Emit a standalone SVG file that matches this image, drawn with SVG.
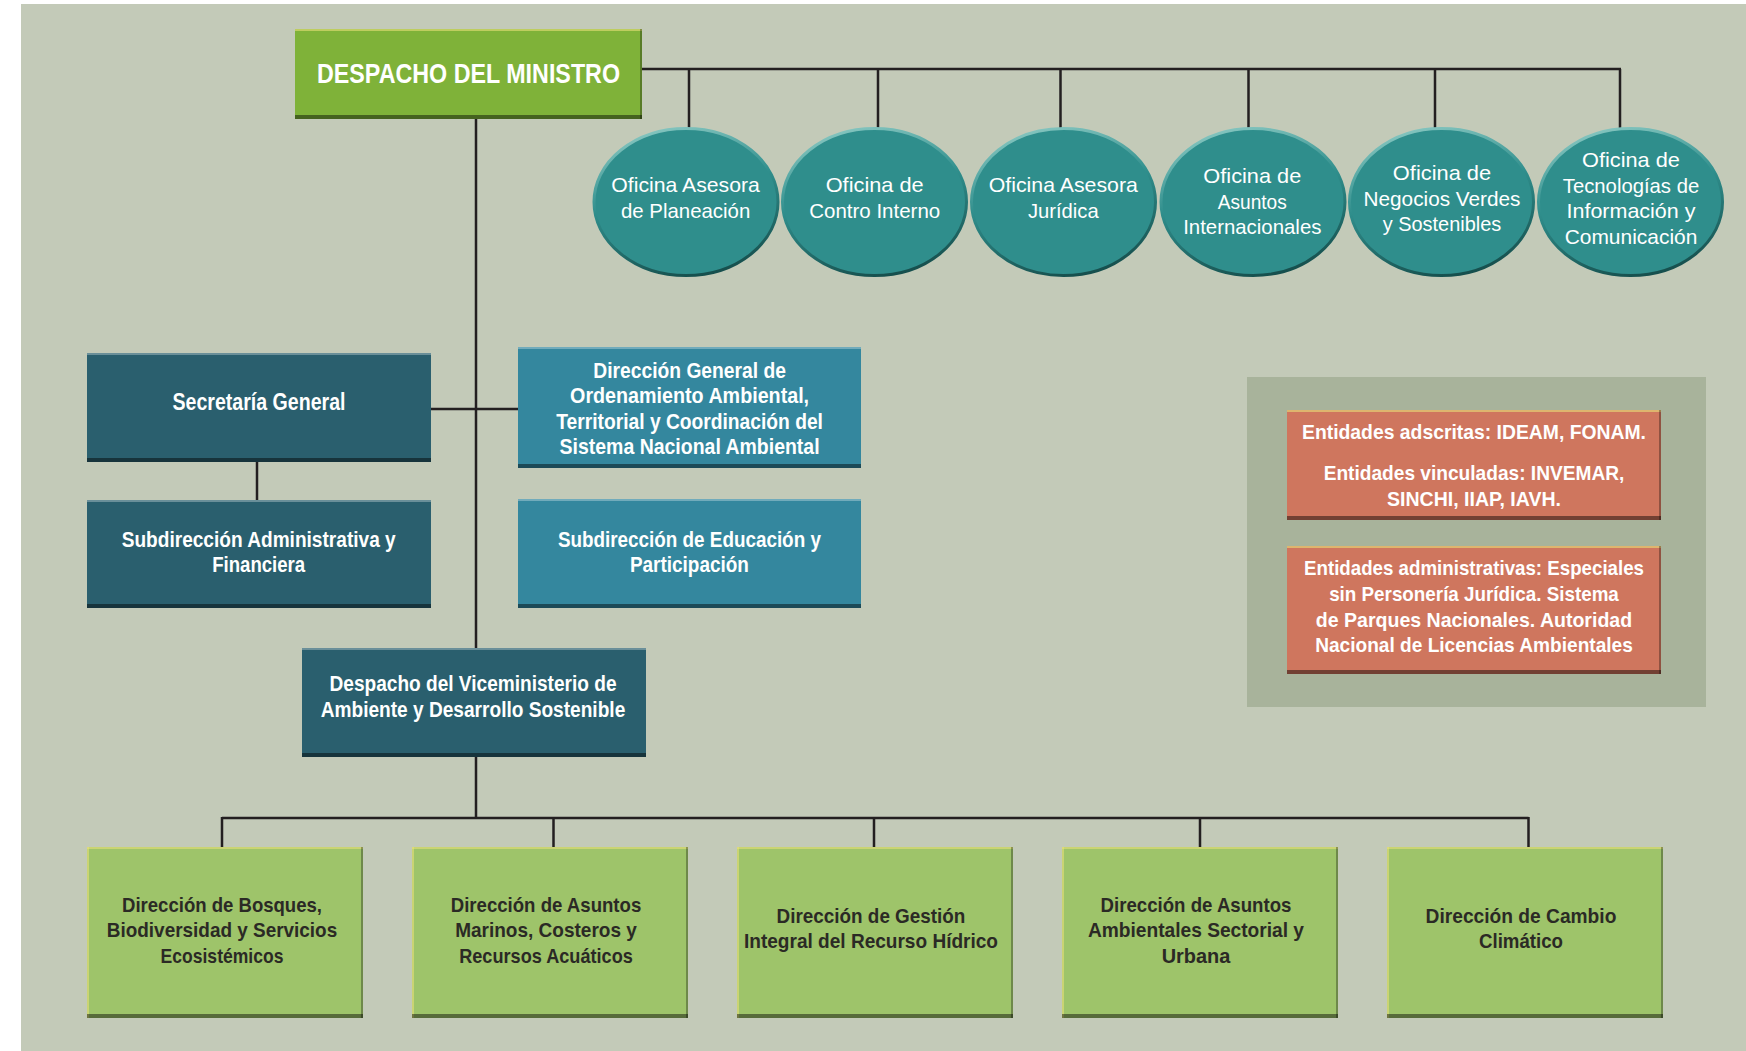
<svg xmlns="http://www.w3.org/2000/svg" width="1746" height="1051" viewBox="0 0 1746 1051">
<defs>
<linearGradient id="rim" x1="0.3" y1="0" x2="0.6" y2="1">
<stop offset="0" stop-color="#86c6c0"/>
<stop offset="0.45" stop-color="#2f8e8c"/>
<stop offset="1" stop-color="#164f4d"/>
</linearGradient>
<style>
.ln{stroke:#231f20;stroke-width:2.5;fill:none}
.hi{fill:#ffffff;opacity:.3}
.hy{fill:#e8e07a;opacity:.6}
.sh{fill:#000000;opacity:.45}
.sr{fill:#000000;opacity:.3}
.g1{fill:#7fb239}
.g2{fill:#9ec46a}
.dk{fill:#2a5f6e}
.bl{fill:#34879e}
.sa{fill:#cf765e}
.ci{fill:#2f8e8c;stroke:url(#rim);stroke-width:3}
.tb{font-family:"Liberation Sans",Arial,sans-serif;font-weight:bold;fill:#ffffff;text-anchor:middle;font-size:22px}
.td{font-family:"Liberation Sans",Arial,sans-serif;font-weight:bold;fill:#2b2a25;text-anchor:middle;font-size:21px}
.tc{font-family:"Liberation Sans",Arial,sans-serif;fill:#ffffff;text-anchor:middle;font-size:21px}
.ts{font-family:"Liberation Sans",Arial,sans-serif;font-weight:bold;fill:#ffffff;text-anchor:middle;font-size:21px}
</style>
</defs>
<rect x="0" y="0" width="1746" height="1051" fill="#ffffff"/>
<rect x="21" y="4" width="1725" height="1047" fill="#c3cab8"/>
<rect x="1247" y="377" width="459" height="330" fill="#a8b39b"/>

<g id="connectors">
<path class="ln" d="M642,69 H1621 M689,69 V128 M878,69 V128 M1060.5,69 V128 M1248.5,69 V128 M1435,69 V128 M1620,69 V128"/>
<path class="ln" d="M476,119 V648"/>
<path class="ln" d="M431,409 H518"/>
<path class="ln" d="M257,462 V500"/>
<path class="ln" d="M476,757 V818 M222,818 H1528.5 M222,817 V847 M553.5,818 V847 M874,818 V847 M1200,818 V847 M1528.5,817 V847"/>
</g>

<g id="despacho">
<rect class="g1" x="295" y="29" width="347" height="90"/>
<rect class="hy" x="295" y="29" width="347" height="2"/>
<rect class="sh" x="295" y="115" width="347" height="4"/>
<rect class="sr" x="640" y="29" width="2" height="90"/>
<text class="tb" x="468.5" y="82.5" style="font-size:28px" textLength="303" lengthAdjust="spacingAndGlyphs">DESPACHO DEL MINISTRO</text>
</g>

<g id="of1">
<ellipse class="ci" cx="686" cy="202" rx="92" ry="73.5"/>
<text class="tc" x="685.6" y="192" textLength="148.5" lengthAdjust="spacingAndGlyphs">Oficina Asesora</text>
<text class="tc" x="685.6" y="218" textLength="129.4" lengthAdjust="spacingAndGlyphs">de Planeación</text>
</g>
<g id="of2">
<ellipse class="ci" cx="874.5" cy="202" rx="92" ry="73.5"/>
<text class="tc" x="874.7" y="192" textLength="98" lengthAdjust="spacingAndGlyphs">Oficina de</text>
<text class="tc" x="874.7" y="218" textLength="131" lengthAdjust="spacingAndGlyphs">Contro Interno</text>
</g>
<g id="of3">
<ellipse class="ci" cx="1063.5" cy="202" rx="92" ry="73.5"/>
<text class="tc" x="1063.3" y="192" textLength="149.3" lengthAdjust="spacingAndGlyphs">Oficina Asesora</text>
<text class="tc" x="1063.3" y="218" textLength="70.8" lengthAdjust="spacingAndGlyphs">Jurídica</text>
</g>
<g id="of4">
<ellipse class="ci" cx="1253" cy="202" rx="92" ry="73.5"/>
<text class="tc" x="1252.3" y="183" textLength="97.9" lengthAdjust="spacingAndGlyphs">Oficina de</text>
<text class="tc" x="1252.3" y="208.5" textLength="69" lengthAdjust="spacingAndGlyphs">Asuntos</text>
<text class="tc" x="1252.3" y="234" textLength="138.3" lengthAdjust="spacingAndGlyphs">Internacionales</text>
</g>
<g id="of5">
<ellipse class="ci" cx="1441.5" cy="202" rx="92" ry="73.5"/>
<text class="tc" x="1442" y="180" textLength="98.3" lengthAdjust="spacingAndGlyphs">Oficina de</text>
<text class="tc" x="1442" y="205.5" textLength="157" lengthAdjust="spacingAndGlyphs">Negocios Verdes</text>
<text class="tc" x="1442" y="231" textLength="118.5" lengthAdjust="spacingAndGlyphs">y Sostenibles</text>
</g>
<g id="of6">
<ellipse class="ci" cx="1630.5" cy="202" rx="92" ry="73.5"/>
<text class="tc" x="1631" y="167" textLength="97.9" lengthAdjust="spacingAndGlyphs">Oficina de</text>
<text class="tc" x="1631" y="192.5" textLength="136.4" lengthAdjust="spacingAndGlyphs">Tecnologías de</text>
<text class="tc" x="1631" y="218" textLength="129" lengthAdjust="spacingAndGlyphs">Información y</text>
<text class="tc" x="1631" y="243.5" textLength="132.7" lengthAdjust="spacingAndGlyphs">Comunicación</text>
</g>

<g id="secretaria">
<rect class="dk" x="87" y="353" width="344" height="109"/>
<rect class="hi" x="87" y="353" width="344" height="2"/>
<rect class="sh" x="87" y="458" width="344" height="4"/>
<text class="tb" x="259" y="410" style="font-size:23px" textLength="173" lengthAdjust="spacingAndGlyphs">Secretaría General</text>
</g>

<g id="subadmin">
<rect class="dk" x="87" y="500" width="344" height="108"/>
<rect class="hi" x="87" y="500" width="344" height="2"/>
<rect class="sh" x="87" y="604" width="344" height="4"/>
<text class="tb" x="258.7" y="546.5" textLength="274" lengthAdjust="spacingAndGlyphs">Subdirección Administrativa y</text>
<text class="tb" x="258.7" y="572" textLength="93" lengthAdjust="spacingAndGlyphs">Financiera</text>
</g>

<g id="dirgeneral">
<rect class="bl" x="518" y="347" width="343" height="121"/>
<rect class="hi" x="518" y="347" width="343" height="2"/>
<rect class="sh" x="518" y="464" width="343" height="4"/>
<text class="tb" x="689.6" y="377.5" textLength="192.5" lengthAdjust="spacingAndGlyphs">Dirección General de</text>
<text class="tb" x="689.6" y="403" textLength="239" lengthAdjust="spacingAndGlyphs">Ordenamiento Ambiental,</text>
<text class="tb" x="689.6" y="428.5" textLength="266.7" lengthAdjust="spacingAndGlyphs">Territorial y Coordinación del</text>
<text class="tb" x="689.6" y="454" textLength="260" lengthAdjust="spacingAndGlyphs">Sistema Nacional Ambiental</text>
</g>

<g id="subeduc">
<rect class="bl" x="518" y="499" width="343" height="109"/>
<rect class="hi" x="518" y="499" width="343" height="2"/>
<rect class="sh" x="518" y="604" width="343" height="4"/>
<text class="tb" x="689.4" y="546.5" textLength="263" lengthAdjust="spacingAndGlyphs">Subdirección de Educación y</text>
<text class="tb" x="689.4" y="572" textLength="119" lengthAdjust="spacingAndGlyphs">Participación</text>
</g>

<g id="viceministerio">
<rect class="dk" x="302" y="648" width="344" height="109"/>
<rect class="hi" x="302" y="648" width="344" height="2"/>
<rect class="sh" x="302" y="753" width="344" height="4"/>
<text class="tb" x="473" y="690.5" textLength="287" lengthAdjust="spacingAndGlyphs">Despacho del Viceministerio de</text>
<text class="tb" x="473" y="716.5" textLength="304.5" lengthAdjust="spacingAndGlyphs">Ambiente y Desarrollo Sostenible</text>
</g>

<g id="entidades1">
<rect class="sa" x="1287" y="410" width="374" height="110"/>
<rect class="hy" x="1287" y="410" width="374" height="2"/>
<rect class="sh" x="1287" y="516" width="374" height="4"/>
<rect class="sr" x="1659" y="410" width="2" height="110"/>
<text class="ts" x="1474" y="439" textLength="344" lengthAdjust="spacingAndGlyphs">Entidades adscritas: IDEAM, FONAM.</text>
<text class="ts" x="1474" y="480" textLength="300.7" lengthAdjust="spacingAndGlyphs">Entidades vinculadas: INVEMAR,</text>
<text class="ts" x="1474" y="506" textLength="174" lengthAdjust="spacingAndGlyphs">SINCHI, IIAP, IAVH.</text>
</g>

<g id="entidades2">
<rect class="sa" x="1287" y="546" width="374" height="128"/>
<rect class="hy" x="1287" y="546" width="374" height="2"/>
<rect class="sh" x="1287" y="670" width="374" height="4"/>
<rect class="sr" x="1659" y="546" width="2" height="128"/>
<text class="ts" x="1474" y="575" textLength="340" lengthAdjust="spacingAndGlyphs">Entidades administrativas: Especiales</text>
<text class="ts" x="1474" y="601" textLength="289.7" lengthAdjust="spacingAndGlyphs">sin Personería Jurídica. Sistema</text>
<text class="ts" x="1474" y="626.5" textLength="316.3" lengthAdjust="spacingAndGlyphs">de Parques Nacionales. Autoridad</text>
<text class="ts" x="1474" y="652" textLength="317.7" lengthAdjust="spacingAndGlyphs">Nacional de Licencias Ambientales</text>
</g>

<g id="bosques">
<rect class="g2" x="87" y="847" width="276" height="171"/>
<rect class="hy" x="87" y="847" width="276" height="2"/>
<rect class="hy" x="87" y="847" width="2" height="171"/>
<rect class="sh" x="87" y="1014" width="276" height="4"/>
<rect class="sr" x="361" y="847" width="2" height="171"/>
<text class="td" x="222" y="911.5" textLength="200" lengthAdjust="spacingAndGlyphs">Dirección de Bosques,</text>
<text class="td" x="222" y="937" textLength="230.4" lengthAdjust="spacingAndGlyphs">Biodiversidad y Servicios</text>
<text class="td" x="222" y="963" textLength="122.8" lengthAdjust="spacingAndGlyphs">Ecosistémicos</text>
</g>

<g id="marinos">
<rect class="g2" x="412" y="847" width="276" height="171"/>
<rect class="hy" x="412" y="847" width="276" height="2"/>
<rect class="hy" x="412" y="847" width="2" height="171"/>
<rect class="sh" x="412" y="1014" width="276" height="4"/>
<rect class="sr" x="686" y="847" width="2" height="171"/>
<text class="td" x="546" y="911.5" textLength="190.6" lengthAdjust="spacingAndGlyphs">Dirección de Asuntos</text>
<text class="td" x="546" y="937" textLength="181.7" lengthAdjust="spacingAndGlyphs">Marinos, Costeros y</text>
<text class="td" x="546" y="963" textLength="173.6" lengthAdjust="spacingAndGlyphs">Recursos Acuáticos</text>
</g>

<g id="hidrico">
<rect class="g2" x="737" y="847" width="276" height="171"/>
<rect class="hy" x="737" y="847" width="276" height="2"/>
<rect class="hy" x="737" y="847" width="2" height="171"/>
<rect class="sh" x="737" y="1014" width="276" height="4"/>
<rect class="sr" x="1011" y="847" width="2" height="171"/>
<text class="td" x="871" y="922.5" textLength="188.8" lengthAdjust="spacingAndGlyphs">Dirección de Gestión</text>
<text class="td" x="871" y="947.5" textLength="254" lengthAdjust="spacingAndGlyphs">Integral del Recurso Hídrico</text>
</g>

<g id="sectorial">
<rect class="g2" x="1062" y="847" width="276" height="171"/>
<rect class="hy" x="1062" y="847" width="276" height="2"/>
<rect class="hy" x="1062" y="847" width="2" height="171"/>
<rect class="sh" x="1062" y="1014" width="276" height="4"/>
<rect class="sr" x="1336" y="847" width="2" height="171"/>
<text class="td" x="1196" y="911.5" textLength="190.8" lengthAdjust="spacingAndGlyphs">Dirección de Asuntos</text>
<text class="td" x="1196" y="937" textLength="216" lengthAdjust="spacingAndGlyphs">Ambientales Sectorial y</text>
<text class="td" x="1196" y="963" textLength="68.7" lengthAdjust="spacingAndGlyphs">Urbana</text>
</g>

<g id="climatico">
<rect class="g2" x="1387" y="847" width="276" height="171"/>
<rect class="hy" x="1387" y="847" width="276" height="2"/>
<rect class="hy" x="1387" y="847" width="2" height="171"/>
<rect class="sh" x="1387" y="1014" width="276" height="4"/>
<rect class="sr" x="1661" y="847" width="2" height="171"/>
<text class="td" x="1521" y="923" textLength="190.8" lengthAdjust="spacingAndGlyphs">Dirección de Cambio</text>
<text class="td" x="1521" y="948" textLength="84" lengthAdjust="spacingAndGlyphs">Climático</text>
</g>
</svg>
